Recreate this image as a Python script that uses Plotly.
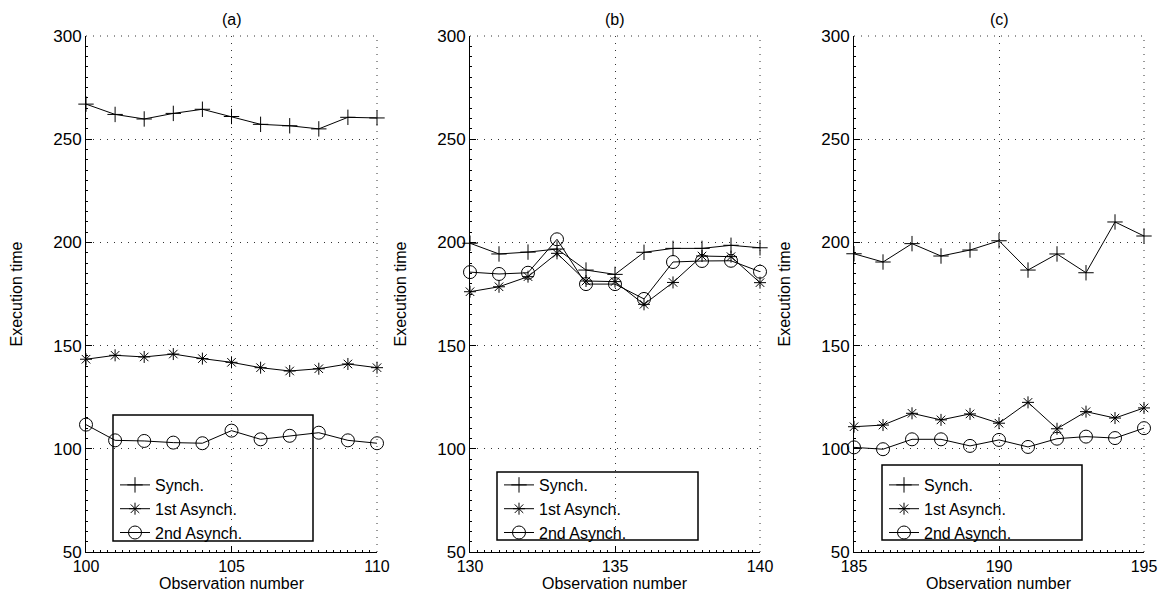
import plotly.graph_objects as go

# 观测编号
obs_a = list(range(100, 111))
obs_b = list(range(130, 141))
obs_c = list(range(185, 196))

# (a) 执行时间
synch_a = [267.0, 262.0, 259.8, 262.5, 264.5, 261.0, 257.2, 256.5, 255.0, 260.6, 260.3]
async1_a = [143.4, 145.3, 144.5, 145.9, 143.7, 141.9, 139.3, 137.7, 138.8, 141.1, 139.3]
async2_a = [111.7, 104.1, 103.8, 103.0, 102.7, 108.8, 104.6, 106.3, 107.8, 104.1, 102.7]

# (b) 执行时间
synch_b = [199.6, 194.4, 195.3, 196.8, 186.6, 184.5, 195.2, 197.1, 197.1, 198.6, 197.4]
async1_b = [176.1, 178.5, 183.4, 194.7, 181.3, 181.0, 170.0, 180.6, 193.4, 193.1, 180.5]
async2_b = [185.6, 184.7, 185.3, 201.5, 179.8, 179.8, 172.6, 190.5, 191.0, 191.1, 185.8]

# (c) 执行时间
synch_c = [194.5, 190.5, 199.4, 193.4, 196.3, 200.8, 186.6, 194.4, 185.3, 209.9, 203.1]
async1_c = [110.7, 111.5, 117.2, 114.0, 116.9, 112.4, 122.5, 109.7, 118.0, 114.9, 119.8]
async2_c = [100.7, 99.8, 104.6, 104.6, 101.4, 104.3, 100.9, 104.9, 105.9, 105.2, 110.0]

series_names = ["Synch.", "1st Asynch.", "2nd Asynch."]
panel_titles = ["(a)", "(b)", "(c)"]
x_ticks = [[100, 105, 110], [130, 135, 140], [185, 190, 195]]
y_ticks = [50, 100, 150, 200, 250, 300]

FONT = "Liberation Sans, Arial, sans-serif"
GRID_DASH = "1px,6px"
symbols = ["cross-thin-open", "asterisk-open", "circle-open"]
sizes = [11, 10, 13]

panels = [
    (obs_a, [synch_a, async1_a, async2_a]),
    (obs_b, [synch_b, async1_b, async2_b]),
    (obs_c, [synch_c, async1_c, async2_c]),
]

# 页面 body 默认有 8px 边距，所有像素位置都减去这个偏移
OFF = 8
W, H = 1170 - OFF, 597 - OFF


def px_x(v):
    return (v - OFF) / W


def px_y(v):
    return 1 - (v - OFF) / H


x_dom = [(86, 377), (470, 760), (854, 1144)]
legend_boxes = [(113, 415, 313, 541), (497, 472, 698, 540), (882, 465, 1082, 540)]

fig = go.Figure()

for i, (obs, ys) in enumerate(panels):
    suffix = "" if i == 0 else str(i + 1)
    legend_id = "legend" + suffix
    for name, y, sym, sz in zip(series_names, ys, symbols, sizes):
        fig.add_trace(go.Scatter(
            x=obs, y=y, name=name,
            mode="lines+markers",
            line=dict(color="black", width=1),
            marker=dict(symbol=sym, size=sz, color="black",
                        line=dict(color="black", width=1)),
            cliponaxis=False,
            xaxis="x" + suffix, yaxis="y" + suffix,
            legend=legend_id,
        ))

    d0, d1 = x_dom[i]
    fig.update_layout({
        "xaxis" + suffix: dict(
            domain=[px_x(d0), px_x(d1)],
            range=[x_ticks[i][0], x_ticks[i][-1]],
            tickvals=x_ticks[i],
            ticks="inside", ticklen=6, tickcolor="black",
            showline=True, linecolor="black", linewidth=1,
            showgrid=True, gridcolor="#333", griddash=GRID_DASH, gridwidth=1,
            zeroline=False,
            minor=dict(ticks="inside", ticklen=2, dtick=0.25, tickcolor="black", showgrid=False),
            tickfont=dict(family=FONT, size=16, color="black"),
            automargin=False,
            anchor="y" + suffix,
        ),
        "yaxis" + suffix: dict(
            domain=[px_y(552), px_y(36)],
            range=[50, 300],
            tickvals=y_ticks,
            ticks="inside", ticklen=6, tickcolor="black",
            showline=True, linecolor="black", linewidth=1,
            showgrid=True, gridcolor="#333", griddash=GRID_DASH, gridwidth=1,
            zeroline=False,
            minor=dict(ticks="inside", ticklen=2, dtick=5, tickcolor="black", showgrid=False),
            tickfont=dict(family=FONT, size=17, color="black"),
            title=dict(text="Execution time", standoff=26,
                       font=dict(family="Liberation Sans Narrow, " + FONT, size=16, color="black")),
            automargin=False,
            anchor="x" + suffix,
        ),
        legend_id: dict(
            x=px_x(legend_boxes[i][0] + 2), y=px_y(468),
            xanchor="left", yanchor="top",
            bgcolor="rgba(0,0,0,0)", borderwidth=0,
            font=dict(family=FONT, size=16, color="black"),
            tracegroupgap=0, itemwidth=30,
        ),
    })

    # 顶部与右侧的点状网格线
    fig.add_shape(type="line", xref="x" + suffix + " domain", yref="y" + suffix + " domain",
                  x0=0, x1=1, y0=1, y1=1, line=dict(color="#333", width=1, dash=GRID_DASH))
    fig.add_shape(type="line", xref="x" + suffix + " domain", yref="y" + suffix + " domain",
                  x0=1, x1=1, y0=0, y1=1, line=dict(color="#333", width=1, dash=GRID_DASH))

    # 图例外框
    bx0, by0, bx1, by1 = legend_boxes[i]
    fig.add_shape(type="rect", xref="paper", yref="paper",
                  x0=px_x(bx0), x1=px_x(bx1), y0=px_y(by1), y1=px_y(by0),
                  line=dict(color="black", width=1.5), fillcolor="white", layer="below")

    # 子图标题与横轴标题
    fig.add_annotation(text=panel_titles[i], xref="paper", yref="paper",
                       x=px_x((d0 + d1) / 2), y=px_y(20), xanchor="center", yanchor="middle",
                       showarrow=False, font=dict(family=FONT, size=16, color="black"))
    fig.add_annotation(text="Observation number", xref="paper", yref="paper",
                       x=px_x((d0 + d1) / 2), y=px_y(583), xanchor="center", yanchor="middle",
                       showarrow=False, font=dict(family=FONT, size=16, color="black"))

fig.update_layout(
    width=W, height=H,
    margin=dict(l=0, r=0, t=0, b=0, autoexpand=False),
    plot_bgcolor="white", paper_bgcolor="white",
    showlegend=True,
)

fig.write_html("out.html")
